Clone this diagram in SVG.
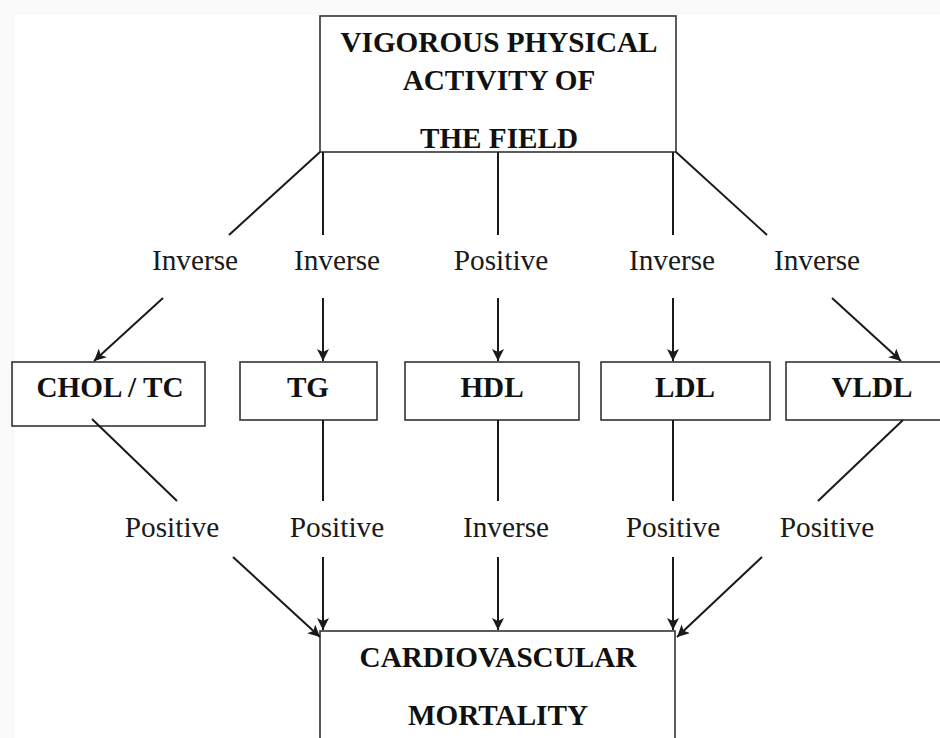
<svg xmlns="http://www.w3.org/2000/svg" width="940" height="738" viewBox="0 0 940 738">
<style>
.box{fill:none;stroke:#333;stroke-width:1.6}
.bt{font-family:"Liberation Serif","Times New Roman",serif;font-weight:bold;font-size:29.2px;fill:#111;text-anchor:middle}
.lt{font-family:"Liberation Serif","Times New Roman",serif;font-size:29.3px;fill:#1a1a1a;text-anchor:middle}
.ln{stroke:#1a1a1a;stroke-width:2;fill:none}
.ar{stroke:#1a1a1a;stroke-width:2;fill:none;marker-end:url(#ah)}
</style>
<defs>
<marker id="ah" markerWidth="14" markerHeight="14" refX="12" refY="6" orient="auto" markerUnits="userSpaceOnUse">
<path d="M0,0 L12,6 L0,12 L3,6 Z" fill="#1a1a1a"/>
</marker>
</defs>
<rect x="0" y="0" width="940" height="738" fill="#fafafa"/>
<rect x="15" y="15" width="925" height="723" fill="#ffffff"/>

<g id="top">
<rect class="box" x="320" y="16" width="356" height="136"/>
<text class="bt" x="499" y="52">VIGOROUS PHYSICAL</text>
<text class="bt" x="499" y="90">ACTIVITY OF</text>
<text class="bt" x="499" y="148">THE FIELD</text>
</g>

<g id="chol"><rect class="box" x="12" y="362" width="193" height="64"/><text class="bt" x="110" y="397">CHOL / TC</text></g>
<g id="tg"><rect class="box" x="240" y="362" width="137" height="58"/><text class="bt" x="308" y="397">TG</text></g>
<g id="hdl"><rect class="box" x="405" y="362" width="174" height="58"/><text class="bt" x="492" y="397">HDL</text></g>
<g id="ldl"><rect class="box" x="601" y="362" width="169" height="58"/><text class="bt" x="685" y="397">LDL</text></g>
<g id="vldl"><rect class="box" x="786" y="362" width="170" height="58"/><text class="bt" x="872" y="397">VLDL</text></g>

<g id="bottom">
<rect class="box" x="320" y="631" width="355" height="120"/>
<text class="bt" x="498" y="667">CARDIOVASCULAR</text>
<text class="bt" x="498" y="725">MORTALITY</text>
</g>

<g id="connectors">
<line class="ln" x1="320" y1="152" x2="229" y2="235"/>
<line class="ar" x1="163" y1="298" x2="94" y2="361"/>
<line class="ln" x1="323" y1="152" x2="323" y2="235"/>
<line class="ar" x1="323" y1="298" x2="323" y2="361"/>
<line class="ln" x1="498" y1="152" x2="498" y2="235"/>
<line class="ar" x1="498" y1="298" x2="498" y2="361"/>
<line class="ln" x1="673" y1="152" x2="673" y2="235"/>
<line class="ar" x1="673" y1="298" x2="673" y2="361"/>
<line class="ln" x1="676" y1="152" x2="767" y2="235"/>
<line class="ar" x1="832" y1="298" x2="901" y2="361"/>

<line class="ln" x1="92" y1="419" x2="177" y2="501"/>
<line class="ar" x1="233" y1="557" x2="320" y2="637"/>
<line class="ln" x1="323" y1="420" x2="323" y2="501"/>
<line class="ar" x1="323" y1="557" x2="323" y2="630"/>
<line class="ln" x1="498" y1="420" x2="498" y2="501"/>
<line class="ar" x1="498" y1="557" x2="498" y2="630"/>
<line class="ln" x1="673" y1="420" x2="673" y2="501"/>
<line class="ar" x1="673" y1="557" x2="673" y2="630"/>
<line class="ln" x1="903" y1="420" x2="818" y2="501"/>
<line class="ar" x1="762" y1="557" x2="677" y2="637"/>
</g>

<g id="labels">
<text class="lt" x="195" y="270">Inverse</text>
<text class="lt" x="337" y="270">Inverse</text>
<text class="lt" x="501" y="270">Positive</text>
<text class="lt" x="672" y="270">Inverse</text>
<text class="lt" x="817" y="270">Inverse</text>
<text class="lt" x="172" y="537">Positive</text>
<text class="lt" x="337" y="537">Positive</text>
<text class="lt" x="506" y="537">Inverse</text>
<text class="lt" x="673" y="537">Positive</text>
<text class="lt" x="827" y="537">Positive</text>
</g>
</svg>
